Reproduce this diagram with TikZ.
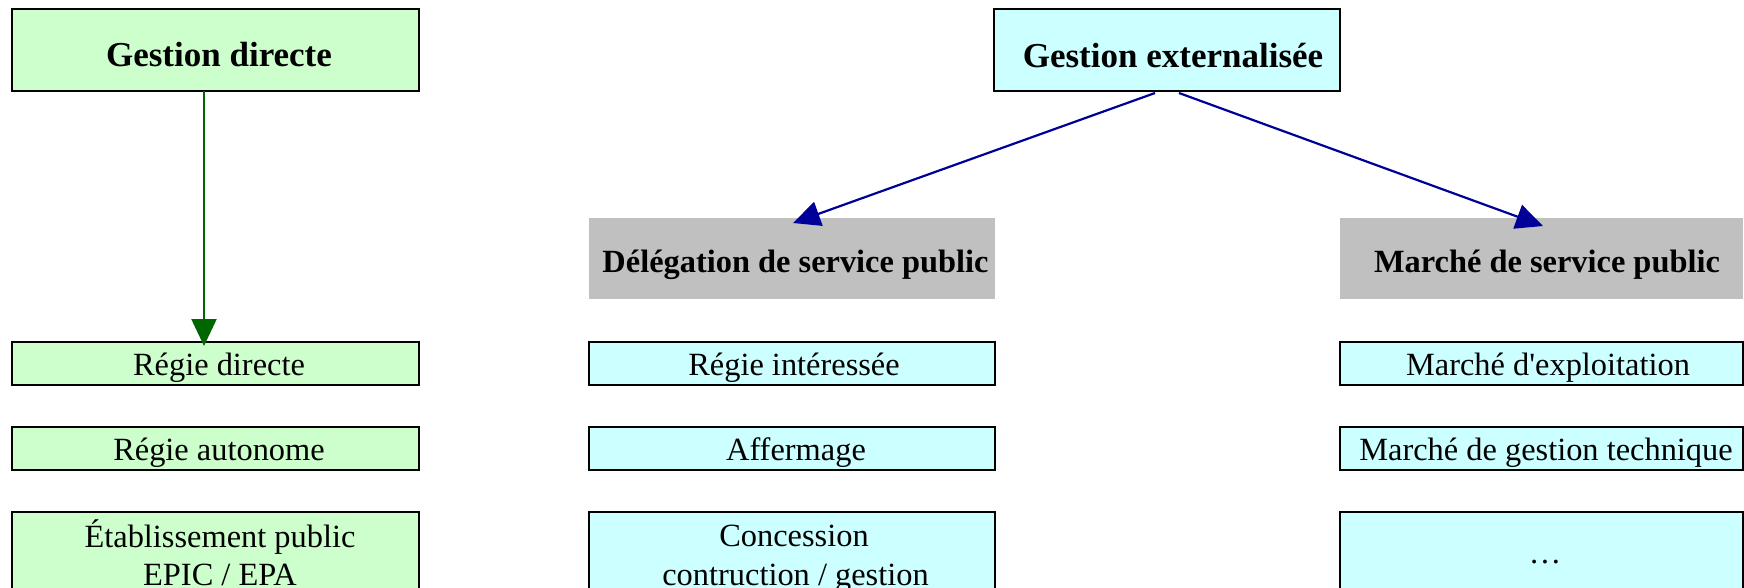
\documentclass[tikz,border=0pt]{standalone}
\usepackage{fontspec}
\setmainfont{Liberation Serif}[Ligatures=TeXOff]
\usetikzlibrary{arrows.meta}
\definecolor{lgreen}{HTML}{CCFFCC}
\definecolor{lcyan}{HTML}{CCFFFF}
\definecolor{lgray}{HTML}{C0C0C0}
\definecolor{navy}{HTML}{000099}
\definecolor{dgreen}{HTML}{006600}
\tikzset{
  box/.style={rectangle, draw=black, line width=2.8pt, inner sep=0pt, outer sep=0pt},
  gbox/.style={box, fill=lgreen},
  cbox/.style={box, fill=lcyan},
  graybox/.style={rectangle, fill=lgray, draw=none, inner sep=0pt, outer sep=0pt},
  txt/.style={anchor=base, inner sep=0pt, font=\fontsize{32.4}{38}\selectfont},
  ttl/.style={anchor=base, inner sep=0pt, font=\fontsize{35}{40}\selectfont\bfseries},
  sub/.style={anchor=base, inner sep=0pt, font=\fontsize{32.4}{38}\selectfont\bfseries},
  conn/.style={line width=2.2pt, -{Triangle[length=27pt,width=25pt]}},
}
\begin{document}
\begin{tikzpicture}[x=1pt,y=-1pt]
\clip (0,0) rectangle (1744,587);
\fill[white] (0,0) rectangle (1744,587);
% header boxes
\node[gbox, minimum width=407, minimum height=82] (gd) at (215.5,50) {};
\node[cbox, minimum width=346, minimum height=82] (gext) at (1167,50) {};
\node[graybox, minimum width=406, minimum height=81] (dsp) at (792,258.5) {};
\node[graybox, minimum width=403, minimum height=81] (msp) at (1541.5,258.5) {};
% left column
\node[gbox, minimum width=407, minimum height=43] (rd) at (215.5,363.5) {};
\node[gbox, minimum width=407, minimum height=43] (ra) at (215.5,448.5) {};
\node[gbox, minimum width=407, minimum height=128] (ep) at (215.5,576) {};
% middle column
\node[cbox, minimum width=406, minimum height=43] (ri) at (792,363.5) {};
\node[cbox, minimum width=406, minimum height=43] (af) at (792,448.5) {};
\node[cbox, minimum width=406, minimum height=128] (co) at (792,576) {};
% right column
\node[cbox, minimum width=403, minimum height=43] (me) at (1541.5,363.5) {};
\node[cbox, minimum width=403, minimum height=43] (mg) at (1541.5,448.5) {};
\node[cbox, minimum width=403, minimum height=128] (mx) at (1541.5,576) {};
% texts
\node[ttl] (tgd) at (219,66) {Gestion directe};
\node[ttl] (tgext) at (1173,67) {Gestion externalisée};
\node[sub] (tdsp) at (795.5,272) {Délégation de service public};
\node[sub] (tmsp) at (1547,272) {Marché de service public};
\node[txt] (trd) at (219,375) {Régie directe};
\node[txt] (tra) at (219,460) {Régie autonome};
\node[txt] (tep1) at (220,547) {Établissement public};
\node[txt] (tep2) at (220,585) {EPIC / EPA};
\node[txt] (tri) at (794,375) {Régie intéressée};
\node[txt] (taf) at (796,460) {Affermage};
\node[txt] (tco1) at (794,546) {Concession};
\node[txt] (tco2) at (795.5,585) {contruction / gestion};
\node[txt] (tme) at (1548,375) {Marché d'exploitation};
\node[txt] (tmg) at (1546,460) {Marché de gestion technique};
\node[txt] (tmx) at (1545,563) {…};
% connectors
\draw[conn, draw=dgreen, fill=dgreen] ([xshift=-11.5]gd.south) -- ([xshift=-11.5,yshift=-4]rd.north);
\draw[conn, draw=navy, fill=navy] ([xshift=-12,yshift=-2]gext.south) -- ([xshift=1,yshift=-5]dsp.north);
\draw[conn, draw=navy, fill=navy] ([xshift=12,yshift=-2]gext.south) -- ([xshift=1.5,yshift=-8]msp.north);
\end{tikzpicture}
\end{document}
